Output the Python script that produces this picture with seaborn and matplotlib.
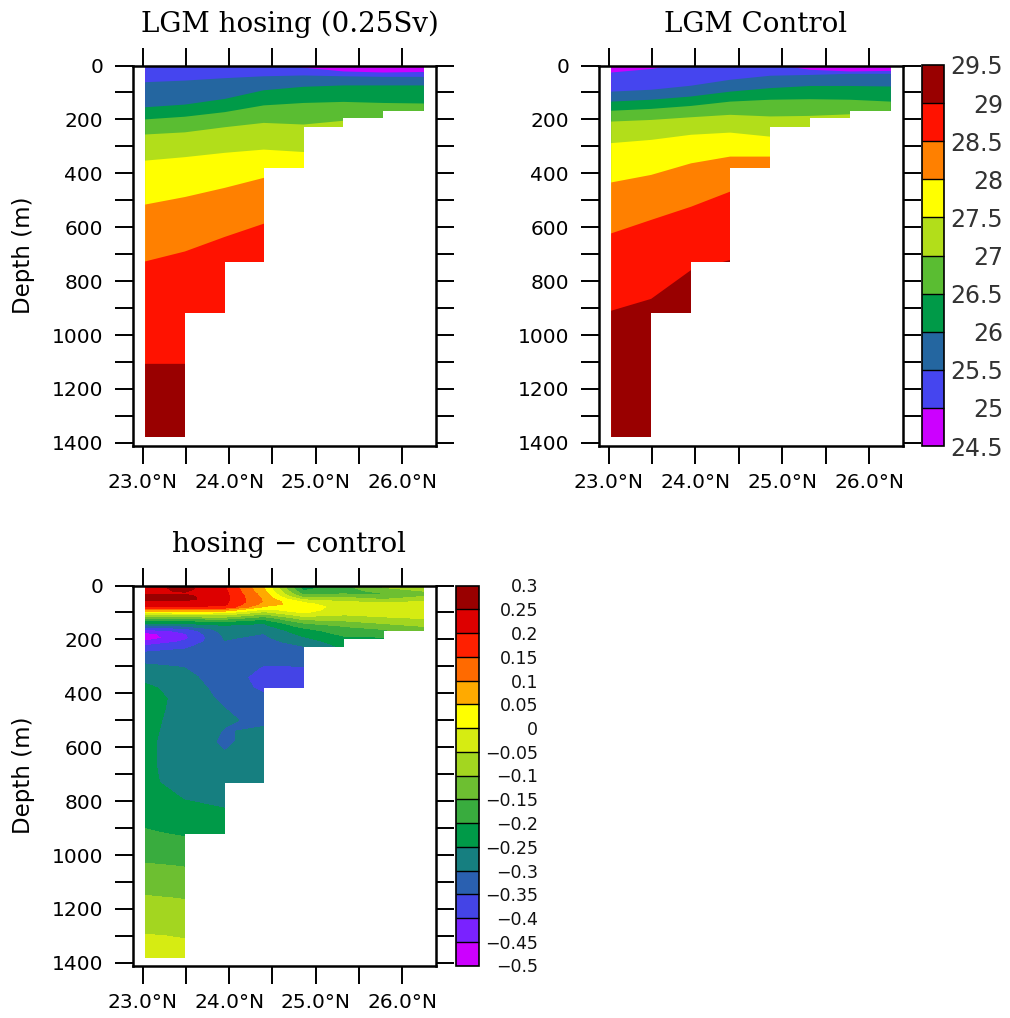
import numpy as np
import matplotlib
matplotlib.use("Agg")
import matplotlib.pyplot as plt
import seaborn as sns
from matplotlib.colors import ListedColormap, BoundaryNorm
from matplotlib.cm import ScalarMappable
from matplotlib.ticker import FixedLocator, FuncFormatter

# ------------------------------------------------------------------ data
lat_nodes = [23.03, 23.49, 23.95, 24.40, 24.86, 25.32, 25.78, 26.25]
col_bottom = [1380, 920, 730, 380, 227, 195, 168]          # sea floor of each grid column (m)

lat_ticks = [23.0, 24.0, 25.0, 26.0]
lat_minor = [23.5, 24.5, 25.5]
depth_ticks = [0, 200, 400, 600, 800, 1000, 1200, 1400]
depth_minor = [100, 300, 500, 700, 900, 1100, 1300]

temp_levels = [24.5, 25.0, 25.5, 26.0, 26.5, 27.0, 27.5, 28.0, 28.5, 29.0, 29.5]
temp_colors = ["#cc00ff", "#4545ef", "#2466a0", "#009a48", "#5abd32",
               "#b2de1a", "#ffff00", "#ff8000", "#ff1200", "#990000"]

# isotherm depths (m) at each latitude node -- LGM hosing (0.25Sv)
hos_25_0 = [-40, -35, -30, -25, 8, 22, 26, 24]
hos_25_5 = [62, 56, 47, 40, 37, 40, 42, 42]
hos_26_0 = [155, 145, 124, 92, 79, 74, 74, 74]
hos_26_5 = [200, 190, 173, 148, 139, 135, 139, 141]
hos_27_0 = [256, 248, 229, 213, 219, 205, 250, 250]
hos_27_5 = [353, 340, 324, 312, 321, 300, 320, 320]
hos_28_0 = [516, 488, 454, 417, 420, 400, 400, 400]
hos_28_5 = [727, 690, 636, 587, 650, 650, 650, 650]
hos_29_0 = [1107, 1107, 1000, 1000, 1000, 1000, 1000, 1000]

# isotherm depths (m) at each latitude node -- LGM Control
ctl_25_0 = [26, 13, -10, -12, -6, 16, 22, 20]
ctl_25_5 = [97, 90, 75, 53, 38, 35, 31, 31]
ctl_26_0 = [134, 127, 115, 97, 84, 76, 76, 78]
ctl_26_5 = [168, 161, 150, 134, 127, 125, 127, 134]
ctl_27_0 = [208, 202, 192, 183, 189, 187, 181, 200]
ctl_27_5 = [288, 276, 257, 249, 264, 280, 300, 300]
ctl_28_0 = [434, 406, 363, 338, 338, 400, 400, 400]
ctl_28_5 = [623, 573, 524, 468, 450, 500, 500, 500]
ctl_29_0 = [910, 866, 759, 722, 800, 800, 800, 800]

# hosing - control on model depth levels (one list per latitude node, down to its sea floor)
diff_depth = [0, 10, 20, 30, 40, 50, 60, 70, 80, 90, 100, 110, 120, 130, 140, 150,
              160, 168, 180, 195, 210, 227, 250, 280, 302, 340, 380, 420, 460, 500,
              540, 580, 620, 680, 730, 790, 850, 920, 980, 1040, 1100, 1160, 1220,
              1300, 1380]
diff_n0 = [0.22, 0.23, 0.24, 0.245, 0.262, 0.262, 0.24, 0.225, 0.19, 0.09, 0.005, -0.06,
           -0.13, -0.19, -0.252, -0.33, -0.38, -0.43, -0.47, -0.48, -0.44, -0.39, -0.345,
           -0.31, -0.29, -0.265, -0.24, -0.225, -0.228, -0.232, -0.235, -0.238, -0.238,
           -0.236, -0.232, -0.228, -0.215, -0.195, -0.175, -0.145, -0.125, -0.095,
           -0.075, -0.048, -0.035]
diff_n1 = [0.245, 0.265, 0.255, 0.245, 0.262, 0.265, 0.24, 0.225, 0.195, 0.10, 0.02, -0.055,
           -0.125, -0.195, -0.245, -0.295, -0.355, -0.385, -0.405, -0.412, -0.39, -0.36,
           -0.335, -0.315, -0.302, -0.285, -0.272, -0.27, -0.272, -0.275, -0.278, -0.28,
           -0.281, -0.283, -0.282, -0.252, -0.232, -0.205, -0.18, -0.152, -0.128, -0.102,
           -0.078, -0.052, -0.037]
diff_n2 = [0.202, 0.205, 0.21, 0.212, 0.215, 0.215, 0.212, 0.208, 0.19, 0.085, 0.012, -0.055,
           -0.115, -0.185, -0.225, -0.258, -0.27, -0.278, -0.288, -0.296, -0.303, -0.31,
           -0.318, -0.325, -0.33, -0.33, -0.322, -0.31, -0.299, -0.296, -0.302, -0.306,
           -0.299, -0.285, -0.27, -0.258, -0.245, -0.235]
diff_n3 = [0.052, 0.055, 0.062, 0.075, 0.085, 0.092, 0.095, 0.08, 0.04, -0.01, -0.065, -0.12,
           -0.175, -0.215, -0.248, -0.265, -0.28, -0.29, -0.301, -0.31, -0.318, -0.327,
           -0.335, -0.343, -0.352, -0.365, -0.36, -0.34, -0.325, -0.307, -0.295, -0.283,
           -0.278, -0.274, -0.27]
diff_n4 = [-0.225, -0.218, -0.198, -0.168, -0.125, -0.068, -0.01, 0.018, 0.03, 0.02, 0.005,
           -0.03, -0.072, -0.112, -0.152, -0.178, -0.205, -0.22, -0.237, -0.258, -0.28,
           -0.302, -0.318, -0.335, -0.352, -0.37, -0.372]
diff_n5 = [-0.165, -0.17, -0.172, -0.155, -0.115, -0.08, -0.048, -0.035, -0.025, -0.025,
           -0.035, -0.052, -0.075, -0.098, -0.122, -0.147, -0.163, -0.175, -0.19, -0.21,
           -0.225, -0.24]
diff_n6 = [-0.09, -0.105, -0.13, -0.152, -0.148, -0.105, -0.06, -0.04, -0.03, -0.028, -0.032,
           -0.042, -0.055, -0.078, -0.098, -0.122, -0.145, -0.16, -0.18, -0.205]
diff_n7 = [-0.07, -0.08, -0.098, -0.115, -0.102, -0.075, -0.048, -0.035, -0.028, -0.025,
           -0.028, -0.035, -0.046, -0.062, -0.078, -0.096, -0.11, -0.12]

diff_levels = [-0.5, -0.45, -0.4, -0.35, -0.3, -0.25, -0.2, -0.15, -0.1, -0.05, 0.0,
               0.05, 0.1, 0.15, 0.2, 0.25, 0.3]
diff_colors = ["#cc00ff", "#7a22ff", "#4444e6", "#2a60b0", "#167f80", "#009a48", "#39ac3e",
               "#6dbf31", "#a3d620", "#d6ec12", "#ffff00", "#ffaa00", "#ff6a00", "#ff2000",
               "#dd0000", "#990000"]

titles = ["LGM hosing (0.25Sv)", "LGM Control", "hosing \u2212 control"]

# ------------------------------------------------------------------ style
sns.set_theme(style="white")
plt.rcParams["font.family"] = ["DejaVu Sans"]
plt.rcParams["axes.unicode_minus"] = True

W, H = 1010, 1018
fig = plt.figure(figsize=(W / 100, H / 100), dpi=100)
fig.patch.set_facecolor("white")

ax1 = fig.add_axes([133 / W, (H - 445.5) / H, 303 / W, 380 / H])
ax2 = fig.add_axes([599 / W, (H - 445.5) / H, 304 / W, 380 / H])
ax3 = fig.add_axes([133 / W, (H - 965.5) / H, 303 / W, 380 / H])
cax2 = fig.add_axes([921.5 / W, (H - 446) / H, 22.5 / W, 381 / H])
cax3 = fig.add_axes([455.5 / W, (H - 965.5) / H, 23 / W, 380 / H])

npts = len(lat_nodes)
XLIM = (22.89, 26.39)
YLIM = (1410, 0)


def draw_bands(ax, isos):
    # each band is filled from its upper isotherm down to the deep ocean,
    # later (deeper) bands overlap the earlier ones -> no seams
    edges = [[-300] * npts] + isos
    for i, c in enumerate(temp_colors):
        ax.fill_between(lat_nodes, edges[i], 3000, facecolor=c,
                        edgecolor="none", linewidth=0, zorder=1 + i * 0.01)
    # sea floor (stair-step over grid columns), extended to the right axis limit
    floor_x = lat_nodes + [XLIM[1]]
    floor_y = col_bottom + [col_bottom[-1], col_bottom[-1]]
    ax.fill_between(floor_x, floor_y, 3000, step="post", facecolor="white",
                    edgecolor="none", linewidth=0, zorder=2)


draw_bands(ax1, [hos_25_0, hos_25_5, hos_26_0, hos_26_5, hos_27_0,
                 hos_27_5, hos_28_0, hos_28_5, hos_29_0])
draw_bands(ax2, [ctl_25_0, ctl_25_5, ctl_26_0, ctl_26_5, ctl_27_0,
                 ctl_27_5, ctl_28_0, ctl_28_5, ctl_29_0])

diff_cols = [diff_n0, diff_n1, diff_n2, diff_n3, diff_n4, diff_n5, diff_n6, diff_n7]
table = np.full((len(diff_depth), npts), np.nan)
for j, col in enumerate(diff_cols):
    table[:len(col), j] = col
ax3.contourf(lat_nodes, diff_depth, np.ma.masked_invalid(table),
             levels=diff_levels, colors=diff_colors, corner_mask=False, zorder=1)

lat_fmt = FuncFormatter(lambda v, p: f"{v:.1f}\u00b0N")
for ax, title in zip([ax1, ax2, ax3], titles):
    ax.set_facecolor("white")
    ax.set_xlim(*XLIM)
    ax.set_ylim(*YLIM)
    ax.xaxis.set_major_locator(FixedLocator(lat_ticks))
    ax.xaxis.set_minor_locator(FixedLocator(lat_minor))
    ax.yaxis.set_major_locator(FixedLocator(depth_ticks))
    ax.yaxis.set_minor_locator(FixedLocator(depth_minor))
    ax.xaxis.set_major_formatter(lat_fmt)
    ax.tick_params(which="both", direction="out", length=13, width=1.4,
                   bottom=True, top=True, left=True, right=True,
                   color="black", labelcolor="black", labelsize=14.5)
    ax.tick_params(axis="y", which="both", pad=8.6)
    ax.tick_params(axis="x", which="both", pad=7)
    for s in ax.spines.values():
        s.set_linewidth(1.8)
        s.set_color("black")
        s.set_zorder(5)
    ax.text(0.5 + 5 / 303, 1 + 33 / 380, title, transform=ax.transAxes,
            ha="center", va="baseline", fontsize=20, family="DejaVu Serif",
            color="black")

for ax in (ax1, ax3):
    ax.set_ylabel("Depth (m)", fontsize=16.5, color="black")
    ax.yaxis.set_label_coords(-0.323, 0.5)

# colour bars
cmapT = ListedColormap(sns.color_palette(temp_colors))
normT = BoundaryNorm(temp_levels, cmapT.N)
cb2 = fig.colorbar(ScalarMappable(norm=normT, cmap=cmapT), cax=cax2,
                   ticks=temp_levels, drawedges=True)
cb2.ax.yaxis.set_major_formatter(FuncFormatter(lambda v, p: f"{v:g}"))
cb2.ax.tick_params(length=0, pad=42.5, labelsize=17, labelcolor="#333333")

cmapD = ListedColormap(sns.color_palette(diff_colors))
normD = BoundaryNorm(diff_levels, cmapD.N)
cb3 = fig.colorbar(ScalarMappable(norm=normD, cmap=cmapD), cax=cax3,
                   ticks=diff_levels, drawedges=True)
cb3.ax.yaxis.set_major_formatter(
    FuncFormatter(lambda v, p: f"{round(v, 2):g}".replace("-", "\u2212")))
cb3.ax.tick_params(length=0, pad=43, labelsize=12.5, labelcolor="#111111")

for cb in (cb2, cb3):
    cb.outline.set_linewidth(1.2)
    cb.outline.set_edgecolor("black")
    cb.dividers.set_color("black")
    cb.dividers.set_linewidth(1.0)
    for t in cb.ax.get_yticklabels():
        t.set_horizontalalignment("right")

fig.savefig("out.png", dpi=100, facecolor="white")
